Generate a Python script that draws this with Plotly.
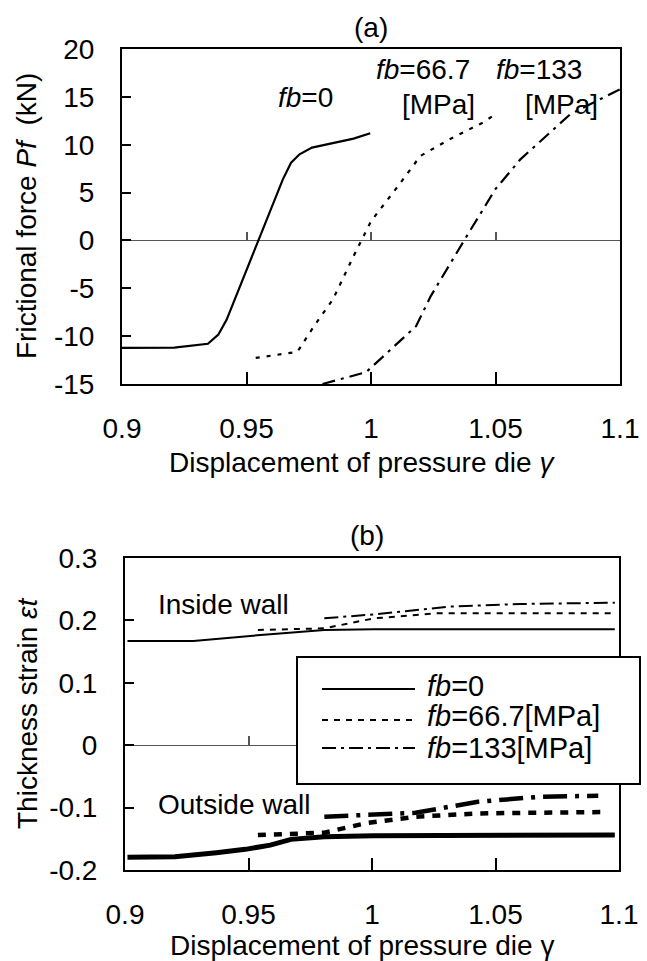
import plotly.graph_objects as go

# ---------------- data (a) ----------------
a_x_fb0 = [0.900, 0.921, 0.9345, 0.9387, 0.942, 0.9546, 0.9646, 0.9679, 0.9713, 0.9763, 0.9847, 0.993, 0.9997]
a_y_fb0 = [-11.22, -11.2, -10.8, -9.83, -8.3, 0.0, 6.38, 8.12, 9.0, 9.7, 10.15, 10.64, 11.19]
a_x_fb67 = [0.9537, 0.9704, 0.9771, 0.9847, 0.993, 1.0, 1.0114, 1.0198, 1.0315, 1.0449, 1.0499]
a_y_fb67 = [-12.27, -11.65, -8.96, -6.17, -1.64, 2.0, 5.86, 8.82, 10.56, 12.31, 13.18]
a_x_fb133 = [0.9805, 0.998, 1.0181, 1.024, 1.0374, 1.0499, 1.06, 1.08, 1.1]
a_y_fb133 = [-15.0, -13.77, -8.96, -5.82, 0.0, 5.33, 8.47, 13.18, 15.8]

# ---------------- data (b) ----------------
b_in_x_fb0 = [0.901, 0.9277, 0.9588, 0.9807, 1.0008, 1.0983]
b_in_y_fb0 = [0.167, 0.167, 0.178, 0.1846, 0.1857, 0.1857]
b_in_x_fb67 = [0.9538, 0.9807, 1.0008, 1.026, 1.0983]
b_in_y_fb67 = [0.1846, 0.1873, 0.2033, 0.2113, 0.2113]
b_in_x_fb133 = [0.9807, 1.0008, 1.0311, 1.0597, 1.0983]
b_in_y_fb133 = [0.2033, 0.2097, 0.222, 0.2263, 0.2284]
b_out_x_fb0 = [0.901, 0.9202, 0.937, 0.9487, 0.9588, 0.9672, 0.9807, 1.0008, 1.0983]
b_out_y_fb0 = [-0.1797, -0.1786, -0.1723, -0.1669, -0.1601, -0.1509, -0.1466, -0.145, -0.144]
b_out_x_fb67 = [0.9538, 0.9807, 0.9975, 1.0092, 1.0176, 1.0429, 1.095]
b_out_y_fb67 = [-0.144, -0.1402, -0.125, -0.12, -0.1147, -0.1093, -0.1071]
b_out_x_fb133 = [0.9807, 1.0076, 1.0176, 1.0429, 1.0681, 1.0916]
b_out_y_fb133 = [-0.1147, -0.1109, -0.1083, -0.0906, -0.0826, -0.081]

legend_names = ["<i>fb</i>=0", "<i>fb</i>=66.7[MPa]", "<i>fb</i>=133[MPa]"]

x_tick_vals = [0.9, 0.95, 1.0, 1.05, 1.1]
x_tick_text = ["0.9", "0.95", "1", "1.05", "1.1"]
a_y_tick_vals = [-15, -10, -5, 0, 5, 10, 15, 20]
a_y_tick_text = ["-15", "-10", "-5", "0", "5", "10", "15", "20"]
b_y_tick_vals = [-0.2, -0.1, 0, 0.1, 0.2, 0.3]
b_y_tick_text = ["-0.2", "-0.1", "0", "0.1", "0.2", "0.3"]

W, H = 647, 961
FONT = "Liberation Sans, Arial, sans-serif"
FS = 28

def px_x(p):
    return p / W

def px_y(p):
    return 1 - p / H

DASH_A67 = "4px,7px"
DASH_A133 = "13px,6px,3px,6px"
DASH_IN67 = "6px,6px"
DASH_IN133 = "14px,5px,3px,5px"

fig = go.Figure()

# (a) traces
fig.add_trace(go.Scatter(x=a_x_fb0, y=a_y_fb0, mode="lines", xaxis="x", yaxis="y",
                         line=dict(color="black", width=2.2), showlegend=False))
fig.add_trace(go.Scatter(x=a_x_fb67, y=a_y_fb67, mode="lines", xaxis="x", yaxis="y",
                         line=dict(color="black", width=2.2, dash=DASH_A67), showlegend=False))
fig.add_trace(go.Scatter(x=a_x_fb133, y=a_y_fb133, mode="lines", xaxis="x", yaxis="y",
                         line=dict(color="black", width=2.2, dash=DASH_A133), showlegend=False))

# (b) inside wall (thin)
fig.add_trace(go.Scatter(x=b_in_x_fb0, y=b_in_y_fb0, mode="lines", xaxis="x2", yaxis="y2",
                         name=legend_names[0], line=dict(color="black", width=2), showlegend=False))
fig.add_trace(go.Scatter(x=b_in_x_fb67, y=b_in_y_fb67, mode="lines", xaxis="x2", yaxis="y2",
                         name=legend_names[1], line=dict(color="black", width=2, dash=DASH_IN67),
                         showlegend=False))
fig.add_trace(go.Scatter(x=b_in_x_fb133, y=b_in_y_fb133, mode="lines", xaxis="x2", yaxis="y2",
                         name=legend_names[2], line=dict(color="black", width=2, dash=DASH_IN133),
                         showlegend=False))
# (b) outside wall (thick)
fig.add_trace(go.Scatter(x=b_out_x_fb0, y=b_out_y_fb0, mode="lines", xaxis="x2", yaxis="y2",
                         line=dict(color="black", width=5), showlegend=False))
fig.add_trace(go.Scatter(x=b_out_x_fb67, y=b_out_y_fb67, mode="lines", xaxis="x2", yaxis="y2",
                         line=dict(color="black", width=4.5, dash="8px,8px"), showlegend=False))
fig.add_trace(go.Scatter(x=b_out_x_fb133, y=b_out_y_fb133, mode="lines", xaxis="x2", yaxis="y2",
                         line=dict(color="black", width=4.5, dash="24px,8px,4px,8px"), showlegend=False))

# empty traces so the zero-line tick axes render
fig.add_trace(go.Scatter(x=[], y=[], xaxis="x3", yaxis="y", showlegend=False, hoverinfo="skip"))
fig.add_trace(go.Scatter(x=[], y=[], xaxis="x4", yaxis="y2", showlegend=False, hoverinfo="skip"))

a_xdom = [px_x(122), px_x(620)]
a_ydom = [px_y(384), px_y(49)]
b_xdom = [px_x(125), px_x(619)]
b_ydom = [px_y(870), px_y(558)]

common_x = dict(range=[0.9, 1.1], tickmode="array", tickvals=x_tick_vals, ticktext=x_tick_text,
                showline=True, linecolor="black", linewidth=2, mirror=True,
                ticks="inside", ticklen=12, tickwidth=1.5, tickcolor="black",
                showgrid=False, zeroline=False, ticklabelstandoff=18, automargin=False,
                tickfont=dict(family=FONT, size=FS, color="black"))
common_y = dict(tickmode="array", showline=True, linecolor="black", linewidth=2, mirror=True,
                ticks="inside", ticklen=9, tickwidth=1.5, tickcolor="black",
                showgrid=False, zeroline=True, zerolinecolor="#555555", zerolinewidth=1.2,
                ticklabelstandoff=20, automargin=False,
                tickfont=dict(family=FONT, size=FS, color="black"))
zero_ticks = dict(range=[0.9, 1.1], tickmode="array", tickvals=[0.95, 1.0, 1.05],
                  showticklabels=False, showline=False, showgrid=False, zeroline=False,
                  ticks="outside", ticklen=9, tickwidth=1.5, tickcolor="#555555", side="top",
                  anchor="free", automargin=False)

fig.update_layout(
    template="none",
    width=W, height=H,
    margin=dict(l=0, r=0, t=0, b=0, pad=0),
    paper_bgcolor="white", plot_bgcolor="white",
    font=dict(family=FONT, size=FS, color="black"),
    xaxis=dict(domain=a_xdom, anchor="y", **common_x),
    yaxis=dict(domain=a_ydom, anchor="x", range=[-15, 20], tickvals=a_y_tick_vals,
               ticktext=a_y_tick_text, **common_y),
    xaxis2=dict(domain=b_xdom, anchor="y2", **common_x),
    yaxis2=dict(domain=b_ydom, anchor="x2", range=[-0.2, 0.3], tickvals=b_y_tick_vals,
                ticktext=b_y_tick_text, **common_y),
    xaxis3=dict(domain=a_xdom, overlaying="x", position=px_y(241), **zero_ticks),
    xaxis4=dict(domain=b_xdom, overlaying="x2", position=px_y(745), **zero_ticks),
    showlegend=False,
)

ann = []
def add_text(text, x, y, xref="paper", yref="paper", angle=0, xanchor="center", size=FS):
    ann.append(dict(text=text, x=x, y=y, xref=xref, yref=yref, showarrow=False,
                    textangle=angle, xanchor=xanchor, yanchor="middle",
                    font=dict(family=FONT, size=size, color="black")))

add_text("(a)", px_x(371), px_y(28))
add_text("(b)", px_x(367), px_y(535))
add_text("Displacement of pressure die <i>γ</i>", px_x(362), px_y(462))
add_text("Displacement of pressure die γ", px_x(362), px_y(945))
add_text("Frictional force <i>Pf</i>  (kN)", px_x(27), px_y(216), angle=-90)
add_text("Thickness strain <i>εt</i>", px_x(27), px_y(714), angle=-90)
add_text("<i>fb</i>=0", 0.9737, 14.96, xref="x", yref="y")
add_text("<i>fb</i>=66.7", 1.0207, 17.9, xref="x", yref="y")
add_text("[MPa]", 1.0273, 14.2, xref="x", yref="y")
add_text("<i>fb</i>=133", 1.0675, 17.9, xref="x", yref="y")
add_text("[MPa]", 1.0767, 14.2, xref="x", yref="y")
add_text("Inside wall", 0.94, 0.2247, xref="x2", yref="y2")
add_text("Outside wall", 0.9444, -0.0958, xref="x2", yref="y2")

# ---- legend box for (b), drawn by hand to match the original layout ----
shapes = []
shapes.append(dict(type="rect", xref="paper", yref="paper",
                   x0=px_x(297), x1=px_x(640), y0=px_y(784), y1=px_y(657),
                   line=dict(color="black", width=2), fillcolor="white", layer="above"))
leg_rows = [(689, 686, None), (720, 716, DASH_IN67), (748, 748, DASH_IN133)]
for (ly, ty, dash), name in zip(leg_rows, legend_names):
    ln = dict(color="black", width=2)
    if dash:
        ln["dash"] = dash
    shapes.append(dict(type="line", xref="paper", yref="paper",
                       x0=px_x(322), x1=px_x(415), y0=px_y(ly), y1=px_y(ly),
                       line=ln, layer="above"))
    add_text(name, px_x(425), px_y(ty), xanchor="left", size=29)

fig.update_layout(annotations=ann, shapes=shapes)

fig.write_html("out.html", config={"displayModeBar": False},
               post_script="document.body.style.margin='0';")
